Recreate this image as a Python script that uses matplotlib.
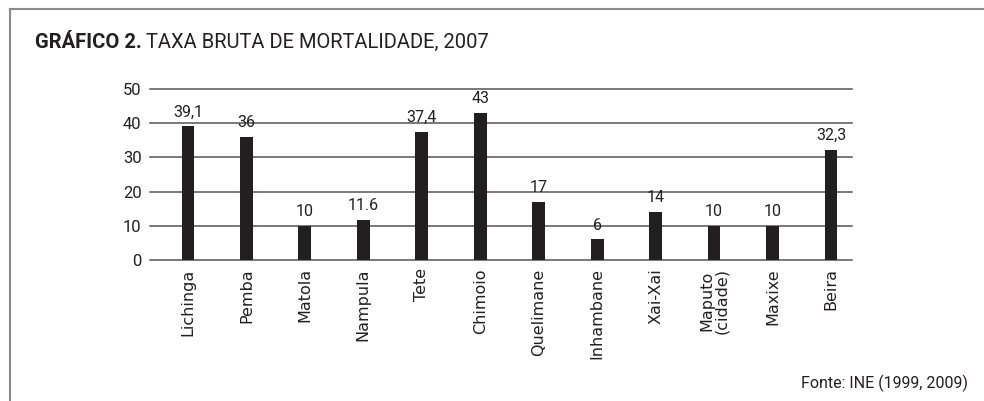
import matplotlib.pyplot as plt
from matplotlib.lines import Line2D

# Taxa bruta de mortalidade por cidade, 2007
cidades = ['Lichinga', 'Pemba', 'Matola', 'Nampula', 'Tete', 'Chimoio',
           'Quelimane', 'Inhambane', 'Xai-Xai', 'Maputo\n(cidade)', 'Maxixe', 'Beira']
taxas = [39.1, 36, 10, 11.6, 37.4, 43, 17, 6, 14, 10, 10, 32.3]
rotulos = ['39,1', '36', '10', '11.6', '37,4', '43', '17', '6', '14', '10', '10', '32,3']
y_ticks = [0, 10, 20, 30, 40, 50]

cor = '#231f20'
fonte_estreita = ['Liberation Sans Narrow', 'Roboto', 'DejaVu Sans']

fig = plt.figure(figsize=(9.84, 4.01), dpi=100)
ax = fig.add_axes([150 / 984, 141 / 401, 702 / 984, 171 / 401])

x = list(range(len(cidades)))
ax.bar(x, taxas, width=0.22, color=cor, zorder=3)

for xi, v, r in zip(x, taxas, rotulos):
    ax.annotate(r, (xi, v), xytext=(0, 5), textcoords='offset points',
                ha='center', va='bottom', fontsize=11.5, color=cor,
                family=fonte_estreita)

ax.set_xlim(-0.65, 11.36)
ax.set_ylim(0, 50)
ax.set_yticks(y_ticks)
ax.set_yticklabels([str(t) for t in y_ticks], family=fonte_estreita,
                   fontsize=12, color=cor)
ax.set_xticks(x)
ax.set_xticklabels(cidades, rotation=90, fontsize=11.5, color=cor,
                   family='DejaVu Sans', linespacing=0.95)
ax.tick_params(axis='both', length=0)
ax.tick_params(axis='y', pad=6)
ax.tick_params(axis='x', pad=6)

for t in y_ticks:
    ax.axhline(t, color='#555555', linewidth=1.1, zorder=1, clip_on=False)
for s in ax.spines.values():
    s.set_visible(False)

# moldura (linha superior e lateral esquerda)
fig.add_artist(Line2D([10 / 984, 1], [1 - 9 / 401, 1 - 9 / 401],
                      transform=fig.transFigure, color='#8a8a8a', linewidth=1.5))
fig.add_artist(Line2D([10 / 984, 10 / 984], [0, 1 - 9 / 401],
                      transform=fig.transFigure, color='#8a8a8a', linewidth=1.5))

# título: parte em negrito seguida do restante
t1 = fig.text(35 / 984, 1 - 42 / 401, 'GRÁFICO 2.', fontsize=14.5, fontweight='bold',
              color=cor, va='center', family=fonte_estreita)
fig.canvas.draw()
bb = t1.get_window_extent()
fig.text(bb.x1 / fig.bbox.width + 4 / 984, 1 - 42 / 401,
         'TAXA BRUTA DE MORTALIDADE, 2007', fontsize=14.5, color=cor,
         va='center', family=fonte_estreita)

fig.text(968 / 984, 1 - 383 / 401, 'Fonte: INE (1999, 2009)', fontsize=11.5,
         color=cor, ha='right', va='center', family=fonte_estreita)

fig.savefig('out.png', dpi=100, facecolor='white')
